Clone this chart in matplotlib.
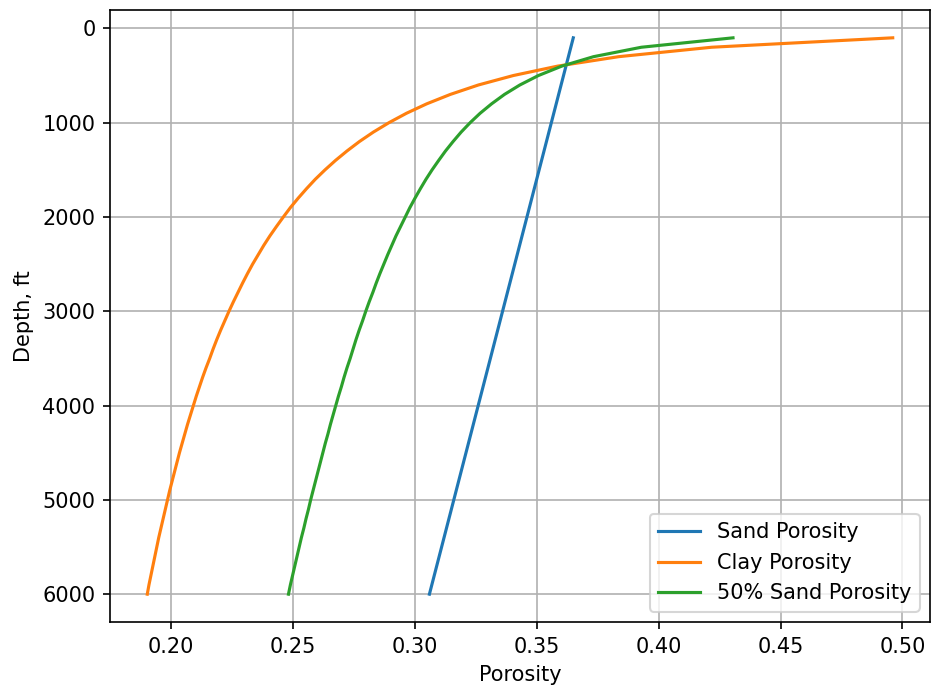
import matplotlib
matplotlib.use("Agg")
import matplotlib.pyplot as plt

depth_ft = [100, 200, 300, 400, 500, 600, 700, 800, 900, 1000,
            1100, 1200, 1300, 1400, 1500, 1600, 1700, 1800, 1900, 2000,
            2100, 2200, 2300, 2400, 2500, 2600, 2700, 2800, 2900, 3000,
            3100, 3200, 3300, 3400, 3500, 3600, 3700, 3800, 3900, 4000,
            4100, 4200, 4300, 4400, 4500, 4600, 4700, 4800, 4900, 5000,
            5100, 5200, 5300, 5400, 5500, 5600, 5700, 5800, 5900, 6000]

sand_porosity = [0.365, 0.364, 0.363, 0.362, 0.361, 0.360, 0.359, 0.358, 0.357, 0.356,
                 0.355, 0.354, 0.353, 0.352, 0.351, 0.350, 0.349, 0.348, 0.347, 0.346,
                 0.345, 0.344, 0.343, 0.342, 0.341, 0.340, 0.339, 0.338, 0.337, 0.336,
                 0.335, 0.334, 0.333, 0.332, 0.331, 0.330, 0.329, 0.328, 0.327, 0.326,
                 0.325, 0.324, 0.323, 0.322, 0.321, 0.320, 0.319, 0.318, 0.317, 0.316,
                 0.315, 0.314, 0.313, 0.312, 0.311, 0.310, 0.309, 0.308, 0.307, 0.306]

clay_porosity = [0.4960, 0.4217, 0.3836, 0.3586, 0.3404, 0.3261, 0.3146, 0.3049, 0.2966, 0.2894,
                 0.2830, 0.2773, 0.2722, 0.2675, 0.2632, 0.2592, 0.2556, 0.2522, 0.2490, 0.2461,
                 0.2433, 0.2406, 0.2381, 0.2358, 0.2335, 0.2314, 0.2294, 0.2275, 0.2256, 0.2238,
                 0.2221, 0.2204, 0.2188, 0.2173, 0.2159, 0.2144, 0.2130, 0.2117, 0.2104, 0.2092,
                 0.2080, 0.2068, 0.2057, 0.2046, 0.2035, 0.2025, 0.2015, 0.2005, 0.1995, 0.1986,
                 0.1977, 0.1968, 0.1959, 0.1950, 0.1942, 0.1934, 0.1926, 0.1918, 0.1910, 0.1903]

mix50_porosity = [0.4305, 0.3929, 0.3733, 0.3603, 0.3507, 0.3431, 0.3368, 0.3315, 0.3268, 0.3227,
                  0.3190, 0.3157, 0.3126, 0.3098, 0.3071, 0.3046, 0.3023, 0.3001, 0.2980, 0.2961,
                  0.2942, 0.2923, 0.2906, 0.2889, 0.2873, 0.2857, 0.2842, 0.2828, 0.2813, 0.2799,
                  0.2786, 0.2772, 0.2759, 0.2747, 0.2735, 0.2722, 0.2710, 0.2699, 0.2687, 0.2676,
                  0.2665, 0.2654, 0.2644, 0.2633, 0.2623, 0.2613, 0.2603, 0.2593, 0.2583, 0.2573,
                  0.2564, 0.2554, 0.2545, 0.2535, 0.2526, 0.2517, 0.2508, 0.2499, 0.2490, 0.2482]

series_labels = ["Sand Porosity", "Clay Porosity", "50% Sand Porosity"]

dpi = 150
fig = plt.figure(figsize=(931 / dpi, 690 / dpi), dpi=dpi)
ax = fig.add_axes([110 / 931, 1 - 622 / 690, 820 / 931, 612 / 690])

ax.plot(sand_porosity, depth_ft, label=series_labels[0])
ax.plot(clay_porosity, depth_ft, label=series_labels[1])
ax.plot(mix50_porosity, depth_ft, label=series_labels[2])

ax.invert_yaxis()
ax.grid(True)
ax.set_xlabel("Porosity")
ax.set_ylabel("Depth, ft")
ax.legend(loc="lower right")

fig.savefig("out.png", dpi=dpi)
